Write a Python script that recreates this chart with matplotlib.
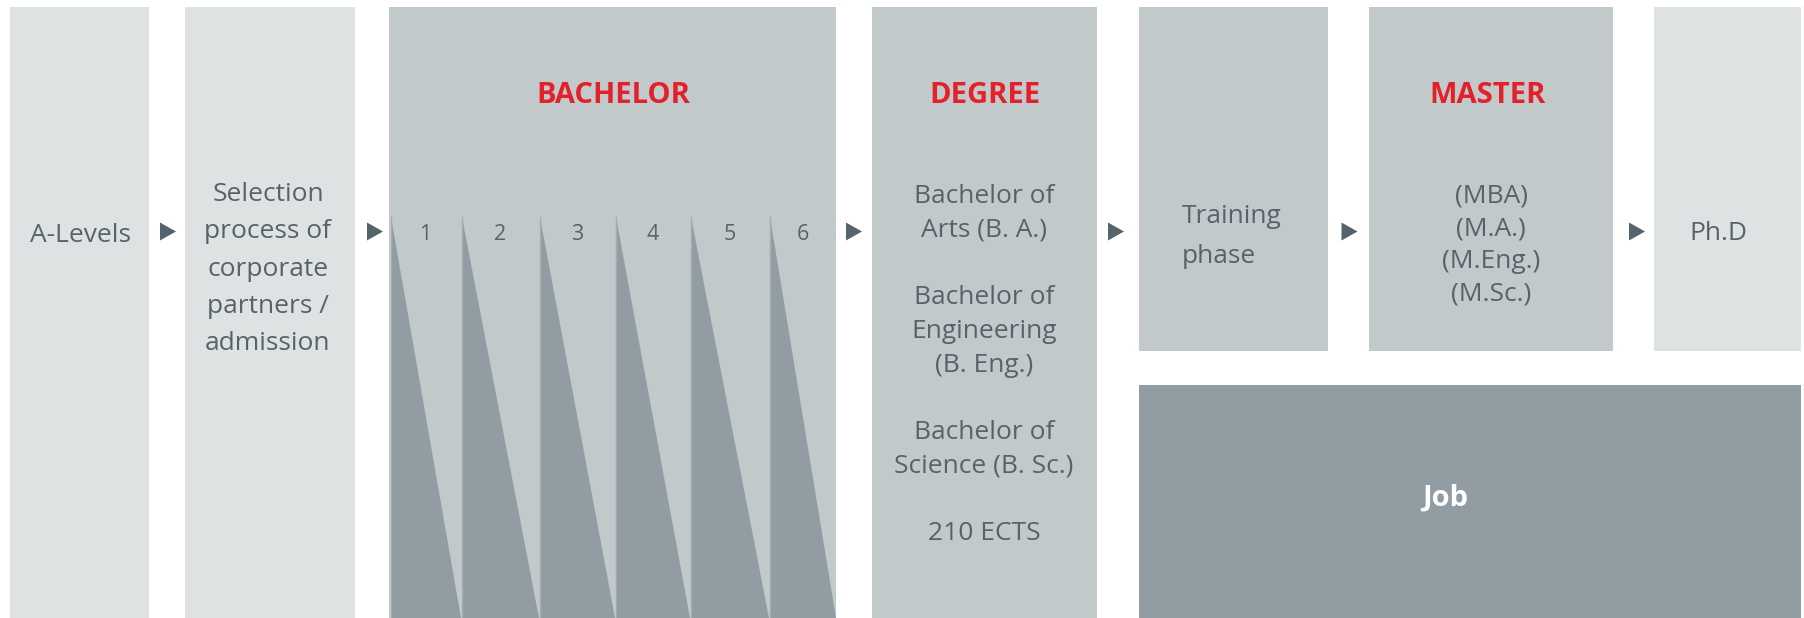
import matplotlib
matplotlib.use("Agg")
import matplotlib.pyplot as plt
from matplotlib.patches import Rectangle, Polygon

plt.rcParams['font.family'] = ['Open Sans', 'DejaVu Sans']

# texts of the diagram
a_levels = "A-Levels"
selection = "Selection\nprocess of\ncorporate\npartners /\nadmission"
bachelor_title = "BACHELOR"
semesters = ["1", "2", "3", "4", "5", "6"]
degree_title = "DEGREE"
degree_text = ("Bachelor of\nArts (B. A.)\n\nBachelor of\nEngineering\n(B. Eng.)\n\n"
               "Bachelor of\nScience (B. Sc.)\n\n210 ECTS")
training = "Training\nphase"
master_title = "MASTER"
master_text = "(MBA)\n(M.A.)\n(M.Eng.)\n(M.Sc.)"
phd = "Ph.D"
job = "Job"

# colours
light = '#dee2e3'
mid = '#c1c9cb'
dark = '#929da3'
txt = '#56636b'
red = '#e4202a'

fig = plt.figure(figsize=(18.04, 6.18), dpi=100)
ax = fig.add_axes([0, 0, 1, 1])
ax.set_xlim(0, 1804)
ax.set_ylim(618, 0)
ax.axis('off')


def box(x0, x1, y0, y1, color):
    ax.add_patch(Rectangle((x0, y0), x1 - x0, y1 - y0, facecolor=color, edgecolor='none'))


def arrow(xc, yc=231.5):
    ax.add_patch(Polygon([(xc - 8, yc - 9), (xc - 8, yc + 9), (xc + 8, yc)],
                         closed=True, facecolor=txt, edgecolor='none'))


top, bottom = 7, 618
# boxes (left, right)
box(10, 149, top, bottom, light)
box(185, 355, top, bottom, light)
box(389, 836, top, bottom, mid)
box(872, 1097, top, bottom, mid)
box(1139, 1328, top, 351, mid)
box(1369, 1613, top, 351, mid)
box(1654, 1801, top, 351, light)
box(1139, 1801, 385, bottom, dark)

# semester sawtooth inside the bachelor box
seg_x = [390, 461, 539, 615, 690, 769, 836]
for i in range(len(semesters)):
    x0, x1 = seg_x[i], seg_x[i + 1]
    ax.add_patch(Polygon([(x0 + 1, 217), (x0 + 1, bottom), (x1, bottom)],
                         closed=True, facecolor=dark, edgecolor='none'))
    ax.plot([x0 + 0.5, x0 + 0.5], [217, bottom], color='#a3adb2', lw=1)
    ax.text((x0 + x1) / 2, 240, semesters[i], ha='center', va='baseline',
            fontsize=15.5, color=txt)

# arrows between stages
for xc in [168, 375, 854, 1116, 1349.5, 1637]:
    arrow(xc)

body = 19
head = 21
ax.text(80, 241.5, a_levels, ha='center', va='baseline', fontsize=body, color=txt)
ax.text(268, 269, selection, ha='center', va='center', fontsize=body, color=txt,
        linespacing=1.64)
ax.text(613, 103, bachelor_title, ha='center', va='baseline', fontsize=head,
        fontweight='bold', color=red)
ax.text(985, 103, degree_title, ha='center', va='baseline', fontsize=head,
        fontweight='bold', color=red)
ax.text(984, 365, degree_text, ha='center', va='center', fontsize=body, color=txt,
        linespacing=1.46)
ax.text(1182, 236.5, training, ha='left', va='center', fontsize=body, color=txt,
        linespacing=1.76)
ax.text(1488, 103, master_title, ha='center', va='baseline', fontsize=head,
        fontweight='bold', color=red)
ax.text(1491, 245, master_text, ha='center', va='center', fontsize=body, color=txt,
        linespacing=1.42)
ax.text(1718, 240.5, phd, ha='center', va='baseline', fontsize=body, color=txt)
ax.text(1445, 506, job, ha='center', va='baseline', fontsize=head, fontweight='bold',
        color='white')

fig.savefig('out.png', dpi=100)
